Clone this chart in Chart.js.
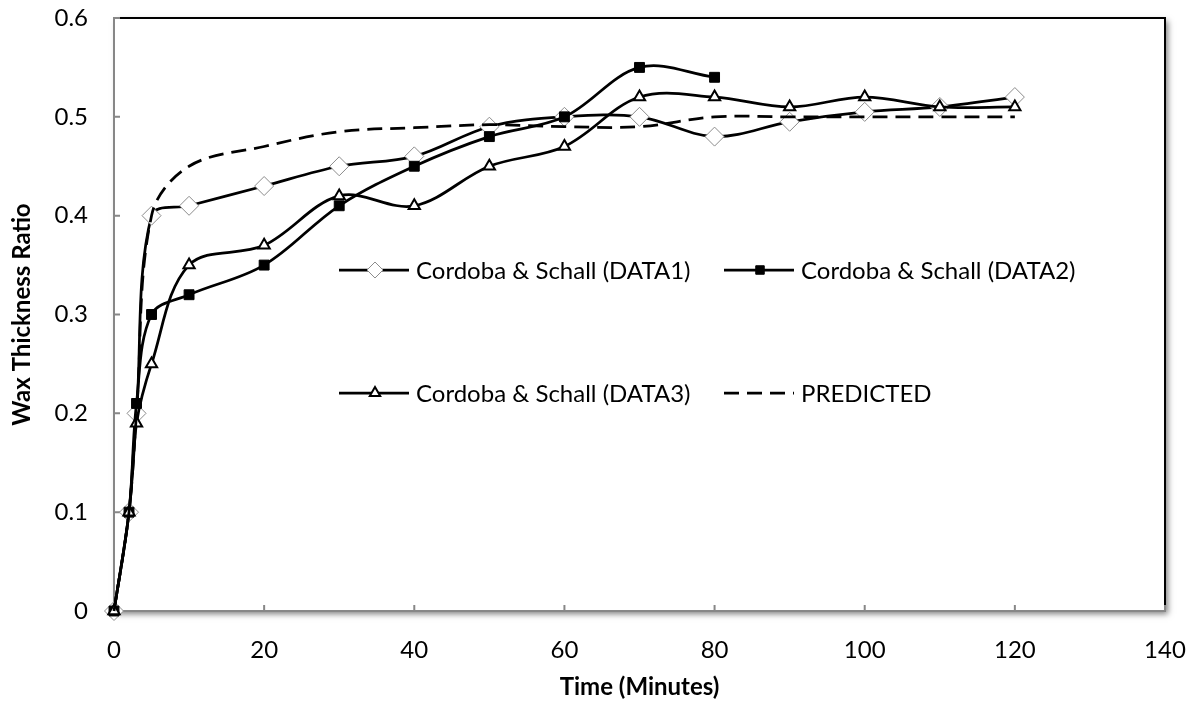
<!DOCTYPE html>
<html>
<head>
<meta charset="utf-8">
<script src="https://cdn.jsdelivr.net/npm/chart.js@4.4.0/dist/chart.umd.min.js"></script>
<style>
  html, body { margin: 0; padding: 0; background: #fff; }
  #wrap { width: 1192px; height: 702px; position: relative; }
</style>
</head>
<body>
<div id="wrap"><canvas id="wax_chart"></canvas></div>
<script>
// values
var timeMinutes = [0, 2, 3, 5, 10, 20, 30, 40, 50, 60, 70, 80, 90, 100, 110, 120];
var data1 = [0, 0.1, 0.2, 0.4, 0.41, 0.43, 0.45, 0.46, 0.49, 0.5, 0.5, 0.48, 0.495, 0.505, 0.51, 0.52];
var data2Time = [0, 2, 3, 5, 10, 20, 30, 40, 50, 60, 70, 80];
var data2 = [0, 0.1, 0.21, 0.3, 0.32, 0.35, 0.41, 0.45, 0.48, 0.5, 0.55, 0.54];
var data3 = [0, 0.1, 0.19, 0.25, 0.35, 0.37, 0.42, 0.41, 0.45, 0.47, 0.52, 0.52, 0.51, 0.52, 0.51, 0.51];
var predicted = [0, 0.1, 0.2, 0.4, 0.45, 0.47, 0.485, 0.489, 0.492, 0.49, 0.49, 0.5, 0.5, 0.5, 0.5, 0.5];
var seriesLabels = ['Cordoba & Schall (DATA1)', 'Cordoba & Schall (DATA2)', 'Cordoba & Schall (DATA3)', 'PREDICTED'];
var xTitle = 'Time (Minutes)';
var yTitle = 'Wax Thickness Ratio';
var xMax = 140, xStep = 20;
var yMax = 0.6, yStep = 0.1;

var axisGray = '#878787';

function toPoints(xs, ys) {
  var pts = [];
  for (var i = 0; i < ys.length; i++) {
    pts.push({ x: xs[i], y: ys[i] });
  }
  return pts;
}

// Excel style plot frame: white box with soft shadow, gray axes, inward ticks
var plotFramePlugin = {
  id: 'plotFrame',
  beforeDatasetsDraw: function(chart) {
    var ctx = chart.ctx;
    var a = chart.chartArea;
    var xs = chart.scales.x;
    var ys = chart.scales.y;
    ctx.save();
    ctx.shadowColor = 'rgba(0,0,0,0.5)';
    ctx.shadowBlur = 6;
    ctx.shadowOffsetX = 3;
    ctx.shadowOffsetY = 3;
    ctx.fillStyle = '#fff';
    ctx.fillRect(a.left, a.top, a.right - a.left, a.bottom - a.top);
    ctx.restore();

    ctx.save();
    ctx.lineWidth = 2;
    ctx.strokeStyle = '#000';
    ctx.beginPath();
    ctx.moveTo(a.left, a.top);
    ctx.lineTo(a.right, a.top);
    ctx.lineTo(a.right, a.bottom);
    ctx.stroke();

    ctx.strokeStyle = axisGray;
    ctx.beginPath();
    ctx.moveTo(a.left, a.top - 1);
    ctx.lineTo(a.left, a.bottom);
    ctx.lineTo(a.right + 1, a.bottom);
    ctx.stroke();

    ctx.beginPath();
    ys.ticks.forEach(function(t) {
      var py = ys.getPixelForValue(t.value);
      ctx.moveTo(a.left, py);
      ctx.lineTo(a.left + 6, py);
    });
    xs.ticks.forEach(function(t) {
      var px = xs.getPixelForValue(t.value);
      ctx.moveTo(px, a.bottom);
      ctx.lineTo(px, a.bottom - 6);
    });
    ctx.stroke();
    ctx.restore();
  }
};

// legend sits inside the plot, two columns by two rows
var legendSlots = [
  { x: 339, y: 270 },
  { x: 724, y: 270 },
  { x: 339, y: 393 },
  { x: 724, y: 393 }
];
var legendMarkerRadius = [8, 6, 6, 0];

var insideLegendPlugin = {
  id: 'insideLegend',
  afterDatasetsDraw: function(chart) {
    var ctx = chart.ctx;
    chart.data.datasets.forEach(function(ds, i) {
      var slot = legendSlots[i];
      ctx.save();
      ctx.strokeStyle = ds.borderColor;
      ctx.lineWidth = ds.borderWidth;
      ctx.setLineDash(ds.borderDash || []);
      ctx.beginPath();
      ctx.moveTo(slot.x, slot.y);
      ctx.lineTo(slot.x + 70, slot.y);
      ctx.stroke();
      ctx.setLineDash([]);
      if (legendMarkerRadius[i] > 0) {
        ctx.fillStyle = ds.pointBackgroundColor;
        ctx.strokeStyle = ds.pointBorderColor;
        ctx.lineWidth = ds.pointBorderWidth;
        Chart.helpers.drawPoint(ctx, {
          pointStyle: ds.pointStyle,
          radius: legendMarkerRadius[i],
          rotation: 0,
          borderWidth: ds.pointBorderWidth
        }, slot.x + 36, slot.y);
      }
      ctx.fillStyle = '#000';
      ctx.font = '24px Lato';
      ctx.textBaseline = 'middle';
      ctx.textAlign = 'left';
      ctx.fillText(ds.label, slot.x + 77, slot.y + 1);
      ctx.restore();
    });
  }
};

Chart.defaults.font.family = 'Lato';
Chart.defaults.font.size = 24;
Chart.defaults.color = '#000';

var ctx = document.getElementById('wax_chart').getContext('2d');
var waxChart = new Chart(ctx, {
  type: 'line',
  data: {
    datasets: [
      {
        label: seriesLabels[0],
        data: toPoints(timeMinutes, data1),
        borderColor: '#000',
        borderWidth: 2.75,
        tension: 0.35,
        pointStyle: 'rectRot',
        pointRadius: 9.5,
        pointBackgroundColor: '#fff',
        pointBorderColor: '#8c8c8c',
        pointBorderWidth: 1,
        clip: false,
        order: 4
      },
      {
        label: seriesLabels[1],
        data: toPoints(data2Time, data2),
        borderColor: '#000',
        borderWidth: 2.75,
        tension: 0.35,
        pointStyle: 'rect',
        pointRadius: 7,
        pointBackgroundColor: '#000',
        pointBorderColor: '#000',
        pointBorderWidth: 1,
        clip: false,
        order: 3
      },
      {
        label: seriesLabels[2],
        data: toPoints(timeMinutes, data3),
        borderColor: '#000',
        borderWidth: 2.75,
        tension: 0.35,
        pointStyle: 'triangle',
        pointRadius: 6.5,
        pointBackgroundColor: '#fff',
        pointBorderColor: '#000',
        pointBorderWidth: 2,
        clip: false,
        order: 2
      },
      {
        label: seriesLabels[3],
        data: toPoints(timeMinutes, predicted),
        borderColor: '#000',
        borderWidth: 2.75,
        borderDash: [15, 8],
        tension: 0.35,
        pointRadius: 0,
        pointBackgroundColor: '#000',
        pointBorderColor: '#000',
        pointBorderWidth: 0,
        clip: false,
        order: 1
      }
    ]
  },
  options: {
    responsive: true,
    maintainAspectRatio: false,
    animation: false,
    events: [],
    layout: { padding: { top: 18, right: 27, left: 0, bottom: 0 } },
    plugins: {
      legend: { display: false },
      tooltip: { enabled: false }
    },
    scales: {
      x: {
        type: 'linear',
        min: 0,
        max: xMax,
        // invisible tick marks only push the labels away from the axis
        grid: { display: true, drawOnChartArea: false, drawTicks: true, tickLength: 25, color: 'rgba(0,0,0,0)' },
        border: { display: false },
        ticks: { stepSize: xStep, padding: 0, maxRotation: 0, autoSkip: false },
        title: {
          display: true,
          text: xTitle,
          font: { size: 24, weight: 'bold' },
          padding: { top: 0, bottom: 0 }
        },
        afterFit: function(scale) { scale.height = 91; }
      },
      y: {
        type: 'linear',
        min: 0,
        max: yMax,
        grid: { display: true, drawOnChartArea: false, drawTicks: true, tickLength: 26, color: 'rgba(0,0,0,0)' },
        border: { display: false },
        ticks: { stepSize: yStep, padding: 0 },
        title: {
          display: true,
          text: yTitle,
          font: { size: 24, weight: 'bold' },
          padding: { top: 8, bottom: 0 }
        },
        afterFit: function(scale) { scale.width = 114; }
      }
    }
  },
  plugins: [plotFramePlugin, insideLegendPlugin]
});
</script>
</body>
</html>
